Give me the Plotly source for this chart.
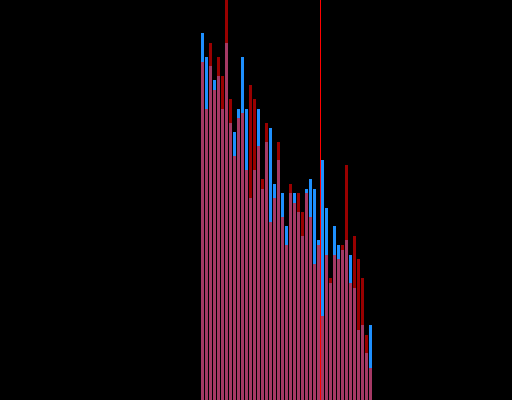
import plotly.graph_objects as go

positions = list(range(43))
blue_values = [91.75, 85.75, 83.5, 80, 81, 72.75, 89.25, 69.25, 67, 72.75, 85.75,
               72.75, 50.5, 57.5, 72.75, 52.75, 64.5, 68, 54, 60, 51.75, 43.5,
               51.75, 51.75, 47, 41, 52.75, 55.25, 52.75, 40, 60, 48, 29.25,
               43.5, 38.75, 37.5, 40, 36.25, 28, 17.5, 18.75, 11.75, 18.75]
red_values = [84.5, 72.75, 89.25, 77.5, 85.75, 81, 100, 75.25, 61, 70.5, 71.75,
              57.5, 78.75, 75.25, 63.5, 55.25, 69.25, 44.5, 50.5, 64.5, 45.75, 38.75,
              54, 49.25, 51.75, 47, 51.75, 45.75, 34, 38.75, 21, 36.25, 30.5,
              36.25, 35.25, 38.75, 58.75, 29.25, 41, 35.25, 30.5, 16.25, 8]
marker_line_x = 29.5

fig = go.Figure()
fig.add_trace(go.Bar(x=positions, y=blue_values, marker_color="#1e90ff",
                     marker_line_width=0, showlegend=False))
fig.add_trace(go.Bar(x=positions, y=red_values, marker_color="#ff0000",
                     opacity=0.6, marker_line_width=0, showlegend=False))
fig.add_shape(type="line", x0=marker_line_x, x1=marker_line_x, y0=0, y1=1,
              xref="x", yref="paper", line=dict(color="#ff0000", width=1))
fig.update_layout(
    width=512, height=400,
    barmode="overlay", bargap=0.25,
    paper_bgcolor="#000000", plot_bgcolor="#000000",
    margin=dict(l=0, r=0, t=0, b=0),
    xaxis=dict(visible=False, range=[-50.625, 77.375]),
    yaxis=dict(visible=False, range=[0, 100]),
)
fig.write_html(
    "out.html",
    config={"displayModeBar": False},
    post_script="document.body.style.margin='0';document.body.style.background='#000';",
)
